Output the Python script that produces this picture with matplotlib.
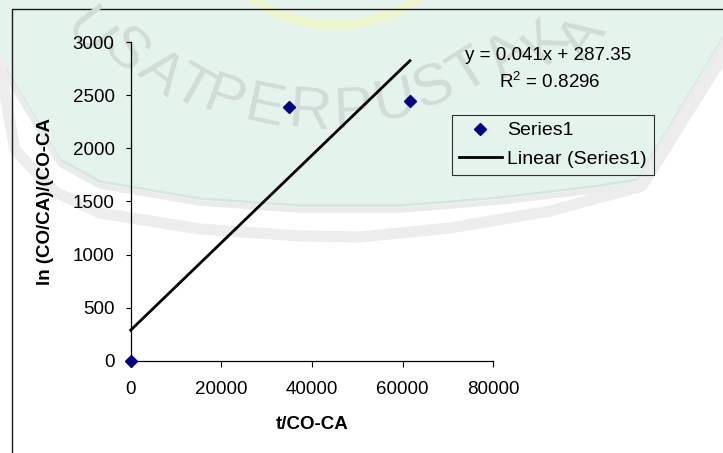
import numpy as np
import matplotlib
matplotlib.use("Agg")
import matplotlib.pyplot as plt
from matplotlib.patches import Polygon, Ellipse

plt.rcParams['font.family'] = ['Liberation Sans', 'DejaVu Sans']
plt.rcParams['mathtext.fontset'] = 'custom'
plt.rcParams['mathtext.rm'] = 'Liberation Sans'

# data
t_co_ca = [0, 34900, 61600]
ln_ratio = [0, 2390, 2450]
x_ticks = [0, 20000, 40000, 60000, 80000]
y_ticks = [0, 500, 1000, 1500, 2000, 2500, 3000]
series_name = "Series1"
trend_name = "Linear (Series1)"
eq_text = "y = 0.041x + 287.35"
r2_text = r"R$^{2}$ = 0.8296"

W, H = 723, 453
fig = plt.figure(figsize=(W / 100, H / 100), dpi=100)
fig.patch.set_facecolor('white')

# background watermark, drawn in pixel coords
bg = fig.add_axes([0, 0, 1, 1], zorder=-1)
bg.set_xlim(0, W)
bg.set_ylim(H, 0)
bg.axis('off')

green_edge = [(-5, 50), (60, 158), (100, 180), (200, 197), (300, 204), (400, 204),
              (500, 196), (600, 184), (638, 178), (730, 25)]
green = Polygon(green_edge + [(730, -5), (-5, -5)], closed=True,
                facecolor='#e4f3ec', edgecolor='none')
bg.add_patch(green)
bg.plot([p[0] for p in green_edge], [p[1] + 1.5 for p in green_edge],
        color='#d5e6dc', lw=2)
bg.plot([p[0] for p in green_edge], [p[1] + 6 for p in green_edge],
        color='#eaeceb', lw=4)
band2 = [(-5, 40), (15, 150), (55, 192), (100, 213), (200, 229), (300, 236),
         (360, 237), (450, 228), (550, 211), (642, 186), (730, 45)]
bg.plot([p[0] for p in band2], [p[1] for p in band2], color='#ededed', lw=8,
        solid_joinstyle='round')
bg.add_patch(Ellipse((335, -60), 230, 170, facecolor='none',
                     edgecolor='#eef6cf', lw=7))

letters = [("U", 88, 34, -52), ("S", 124, 52, -45), ("A", 160, 74, -37),
           ("T", 192, 90, -30), ("P", 224, 101, -20), ("E", 264, 108, -12),
           ("R", 310, 113, -5), ("P", 353, 112, 3), ("U", 395, 101, 12),
           ("S", 434, 88, 22), ("T", 470, 72, 32), ("A", 508, 56, 40),
           ("K", 546, 42, 48), ("A", 584, 38, 55)]
for ch, lx, ly, rot in letters:
    bg.text(lx, ly, ch, fontsize=42, color='#d0dcd5', ha='center', va='center',
            rotation=rot, rotation_mode='anchor')

# chart area frame (left and top edges visible)
bg.plot([12, 12, 730], [460, 9, 9], color='#1a1a1a', lw=1.0)

# main plot
ax = fig.add_axes([130.7 / W, 1 - 360.7 / H, 362.6 / W, 318.4 / H])
ax.set_facecolor('none')
ax.set_xlim(0, 80000)
ax.set_ylim(0, 3000)
ax.set_xticks(x_ticks)
ax.set_yticks(y_ticks)
ax.spines['top'].set_visible(False)
ax.spines['right'].set_visible(False)
for s in ['left', 'bottom']:
    ax.spines[s].set_linewidth(0.9)
ax.tick_params(axis='x', direction='out', length=4.3, width=0.8, pad=10, labelsize=13.5)
ax.tick_params(axis='y', direction='out', length=3.6, width=0.8, pad=8, labelsize=13.5)

ax.plot(t_co_ca, ln_ratio, linestyle='none', marker='D', ms=6.2,
        color='#000080', clip_on=False, zorder=5, label=series_name)

slope, intercept = np.polyfit(t_co_ca, ln_ratio, 1)
xs = np.array([0, max(t_co_ca)])
ax.plot(xs, slope * xs + intercept, color='black', lw=2, clip_on=False,
        label=trend_name)

ax.text(1.151, 0.960, eq_text, transform=ax.transAxes, ha='center', va='center',
        fontsize=13.5)
ax.text(1.156, 0.875, r2_text, transform=ax.transAxes, ha='center', va='center',
        fontsize=13.5)

ax.set_xlabel("t/CO-CA", fontsize=13.5, fontweight='bold')
ax.xaxis.set_label_coords(0.5, -0.199)
ax.xaxis.label.set_va('center')
ax.set_ylabel("ln (CO/CA)/(CO-CA", fontsize=13.5, fontweight='bold')
ax.yaxis.set_label_coords(-0.236, 0.5)
ax.yaxis.label.set_va('center')

leg = ax.legend(loc='upper left', bbox_to_anchor=(452 / W, 1 - 115 / H),
                bbox_transform=fig.transFigure, fontsize=14, frameon=True,
                fancybox=False, borderpad=0.35, labelspacing=0.55,
                handlelength=2.2, handletextpad=0.3, borderaxespad=0)
leg.get_frame().set_edgecolor('black')
leg.get_frame().set_linewidth(0.8)
leg.get_frame().set_facecolor('none')

fig.savefig("out.png", dpi=100)
